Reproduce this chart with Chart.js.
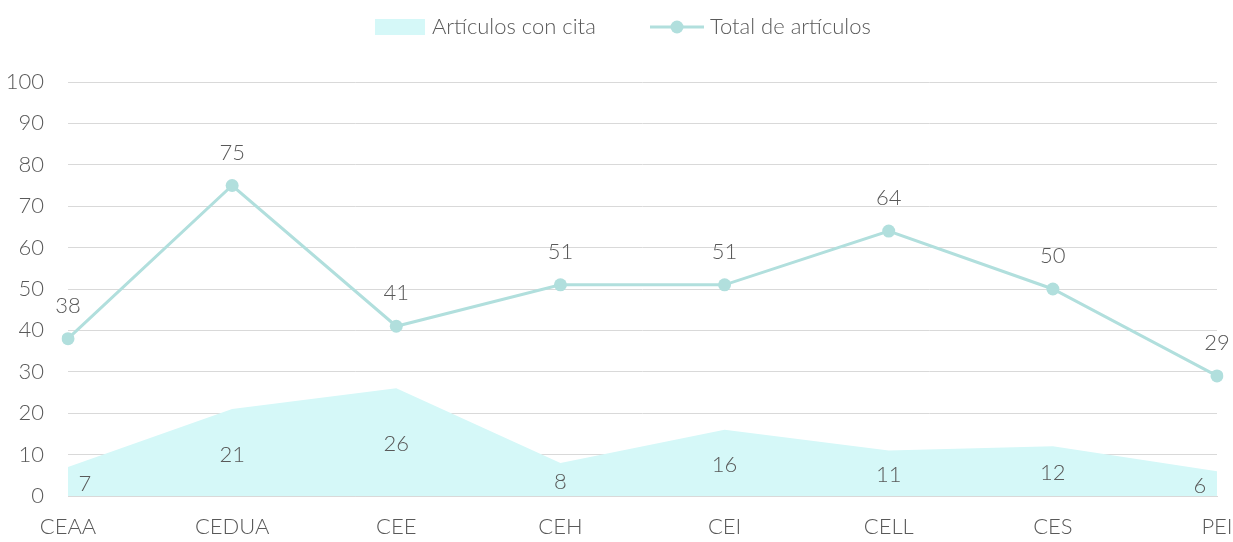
<!DOCTYPE html>
<html>
<head>
<meta charset="utf-8">
<script src="https://cdn.jsdelivr.net/npm/chart.js@4/dist/chart.umd.min.js"></script>
<style>
  html, body { margin: 0; padding: 0; background: #fff; }
  #wrap { width: 1233px; height: 542px; }
</style>
</head>
<body>
<div id="wrap"><canvas id="chart"></canvas></div>
<script>
const categories = ["CEAA", "CEDUA", "CEE", "CEH", "CEI", "CELL", "CES", "PEI"];
const conCita = [7, 21, 26, 8, 16, 11, 12, 6];
const totalArticulos = [38, 75, 41, 51, 51, 64, 50, 29];
const yTicks = [0, 10, 20, 30, 40, 50, 60, 70, 80, 90, 100];

const textColor = "#595959";
const areaColor = "#d5f8f8";
const lineColor = "#b1dfdd";
const fontFamily = "Lato, 'Open Sans', sans-serif";

const labelsPlugin = {
  id: "valueLabels",
  afterDatasetsDraw(chart) {
    const ctx = chart.ctx;
    const y = chart.scales.y;
    ctx.save();
    ctx.font = "300 22px " + fontFamily;
    ctx.fillStyle = textColor;
    ctx.textAlign = "center";
    ctx.textBaseline = "middle";
    // line labels above points
    chart.getDatasetMeta(1).data.forEach((pt, i) => {
      ctx.fillText(String(totalArticulos[i]), pt.x, pt.y - 33);
    });
    // area labels in the middle of the fill
    const n = conCita.length;
    chart.getDatasetMeta(0).data.forEach((pt, i) => {
      let x = pt.x;
      if (i === 0) x += 17;
      if (i === n - 1) x -= 17;
      const yy = y.getPixelForValue(conCita[i] / 2);
      ctx.fillText(String(conCita[i]), x, yy + 2);
    });
    ctx.restore();
  },
  afterDraw(chart) {
    // legend
    const ctx = chart.ctx;
    ctx.save();
    ctx.font = "300 22px " + fontFamily;
    ctx.fillStyle = textColor;
    ctx.textBaseline = "middle";
    ctx.textAlign = "left";
    const ly = 27;
    ctx.fillStyle = areaColor;
    ctx.fillRect(375, ly - 8, 50, 16);
    ctx.fillStyle = textColor;
    ctx.fillText(chart.data.datasets[0].label, 432, ly);
    ctx.strokeStyle = lineColor;
    ctx.lineWidth = 3;
    ctx.beginPath();
    ctx.moveTo(650, ly);
    ctx.lineTo(704, ly);
    ctx.stroke();
    ctx.fillStyle = lineColor;
    ctx.beginPath();
    ctx.arc(677, ly, 6.5, 0, Math.PI * 2);
    ctx.fill();
    ctx.fillStyle = textColor;
    ctx.fillText(chart.data.datasets[1].label, 710, ly);
    ctx.restore();
  }
};

new Chart(document.getElementById("chart"), {
  type: "line",
  data: {
    labels: categories,
    datasets: [
      {
        label: "Artículos con cita",
        data: conCita,
        fill: "origin",
        backgroundColor: areaColor,
        borderWidth: 0,
        pointRadius: 0,
        tension: 0,
        order: 2
      },
      {
        label: "Total de artículos",
        data: totalArticulos,
        fill: false,
        borderColor: lineColor,
        backgroundColor: lineColor,
        borderWidth: 3,
        pointRadius: 6.5,
        pointBackgroundColor: lineColor,
        pointBorderWidth: 0,
        tension: 0,
        order: 1
      }
    ]
  },
  options: {
    responsive: true,
    maintainAspectRatio: false,
    animation: false,
    layout: { padding: { top: 82, right: 16, left: 0, bottom: 0 } },
    plugins: {
      legend: { display: false },
      tooltip: { enabled: false }
    },
    scales: {
      x: {
        offset: false,
        grid: { display: false, drawTicks: false },
        border: { display: true, color: "#d9d9d9", width: 1 },
        afterFit(scale) {
          scale.height = 46;
          scale.paddingLeft = 0;
          scale.paddingRight = 0;
        },
        ticks: {
          color: textColor,
          font: { family: fontFamily, size: 22, weight: 300 },
          padding: 18,
          maxRotation: 0,
          autoSkip: false
        }
      },
      y: {
        min: 0,
        max: 100,
        afterBuildTicks(scale) {
          scale.ticks = yTicks.map(v => ({ value: v }));
        },
        afterFit(scale) { scale.width = 68; },
        grid: { color: "#d9d9d9", lineWidth: 1, drawTicks: false },
        border: { display: false },
        ticks: {
          color: textColor,
          font: { family: fontFamily, size: 22, weight: 300 },
          padding: 24
        }
      }
    }
  },
  plugins: [labelsPlugin]
});
</script>
</body>
</html>
